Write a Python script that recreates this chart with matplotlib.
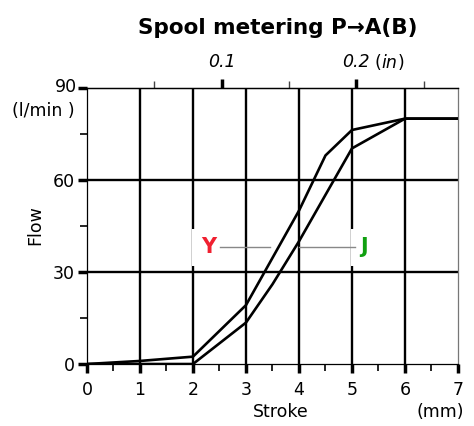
import matplotlib.pyplot as plt
from matplotlib.ticker import MultipleLocator

plt.rcParams['font.family'] = ['DejaVu Sans']

# stroke (mm) vs flow (l/min)
y_stroke = [0, 1, 2, 3, 4, 4.5, 5, 6, 7]
y_flow = [0, 1.0, 2.4, 19.2, 50, 68, 76.3, 80, 80]
j_stroke = [0, 1, 2, 3, 3.5, 4, 5, 6, 7]
j_flow = [0, 0, 0, 13.5, 26, 40, 70.3, 80, 80]

x_ticks = [0, 1, 2, 3, 4, 5, 6, 7]
y_ticks = [0, 30, 60, 90]
in_major = [0.1, 0.2]
in_minor = [0.05, 0.15, 0.25]

FS = 12.5

fig = plt.figure(figsize=(4.74, 4.26), dpi=100)
ax = fig.add_axes([0.1835, 0.1455, 0.7827, 0.648])

ax.set_xlim(0, 7)
ax.set_ylim(0, 90)

for x in x_ticks[1:-1]:
    ax.axvline(x, color='black', lw=1.7, zorder=1)
for y in y_ticks[1:-1]:
    ax.axhline(y, color='black', lw=1.7, zorder=1)

ax.plot(y_stroke, y_flow, color='black', lw=1.9, zorder=4)
ax.plot(j_stroke, j_flow, color='black', lw=1.9, zorder=4)

# Y --- J label
ax.plot([2.51, 3.45], [38, 38], color='#888888', lw=1.0, zorder=6)
ax.plot([4.0, 5.06], [38, 38], color='#888888', lw=1.0, zorder=6)
ax.text(2.29, 38, 'Y', color='#f02030', fontsize=15, fontweight='bold',
        ha='center', va='center', zorder=5,
        bbox=dict(facecolor='white', edgecolor='none', pad=6.5))
ax.text(5.22, 38, 'J', color='#10a010', fontsize=15, fontweight='bold',
        ha='center', va='center', zorder=5,
        bbox=dict(facecolor='white', edgecolor='none', pad=6.5))

ax.set_xticks(x_ticks)
ax.set_yticks(y_ticks)
ax.set_yticklabels(['0', '30', '60', ''])
ax.xaxis.set_minor_locator(MultipleLocator(0.5))
ax.yaxis.set_minor_locator(MultipleLocator(15))
ax.tick_params(which='major', length=6.5, width=2.5, labelsize=FS, color='black')
ax.tick_params(axis='x', which='major', pad=6)
ax.tick_params(axis='y', which='major', pad=2)
ax.tick_params(which='minor', length=5, width=1.2, color='black')

for s in ['left', 'bottom', 'top']:
    ax.spines[s].set_linewidth(0.9)
ax.spines['right'].set_color('#777777')
ax.spines['right'].set_linewidth(0.9)

ax2 = ax.secondary_xaxis('top', functions=(lambda v: v / 25.4, lambda v: v * 25.4))
ax2.set_xticks(in_major)
ax2.set_xticklabels(['0.1', '0.2'], fontstyle='italic')
ax2.set_xticks(in_minor, minor=True)
ax2.tick_params(which='major', length=6.5, width=2.5, labelsize=FS, pad=6)
ax2.tick_params(which='minor', length=5, width=1.0, color='#444444')
ax2.spines['top'].set_linewidth(0.9)

fig.text(0.791, 0.853, '(', fontsize=FS, ha='left', va='center')
fig.text(0.804, 0.853, 'in', fontsize=FS, ha='left', va='center', fontstyle='italic')
fig.text(0.838, 0.853, ')', fontsize=FS, ha='left', va='center')

fig.text(0.163, 0.796, '90', fontsize=FS, ha='right', va='center')
fig.text(0.158, 0.739, '(l/min )', fontsize=FS, ha='right', va='center')

fig.text(0.074, 0.472, 'Flow', fontsize=FS, rotation=90, ha='center', va='center')
fig.text(0.593, 0.033, 'Stroke', fontsize=FS, ha='center', va='center')
fig.text(0.928, 0.033, '(mm)', fontsize=FS, ha='center', va='center')

fig.text(0.585, 0.934, 'Spool metering P\u2192A(B)', fontsize=15.5, fontweight='bold',
         ha='center', va='center')

fig.savefig('out.png', dpi=100)
